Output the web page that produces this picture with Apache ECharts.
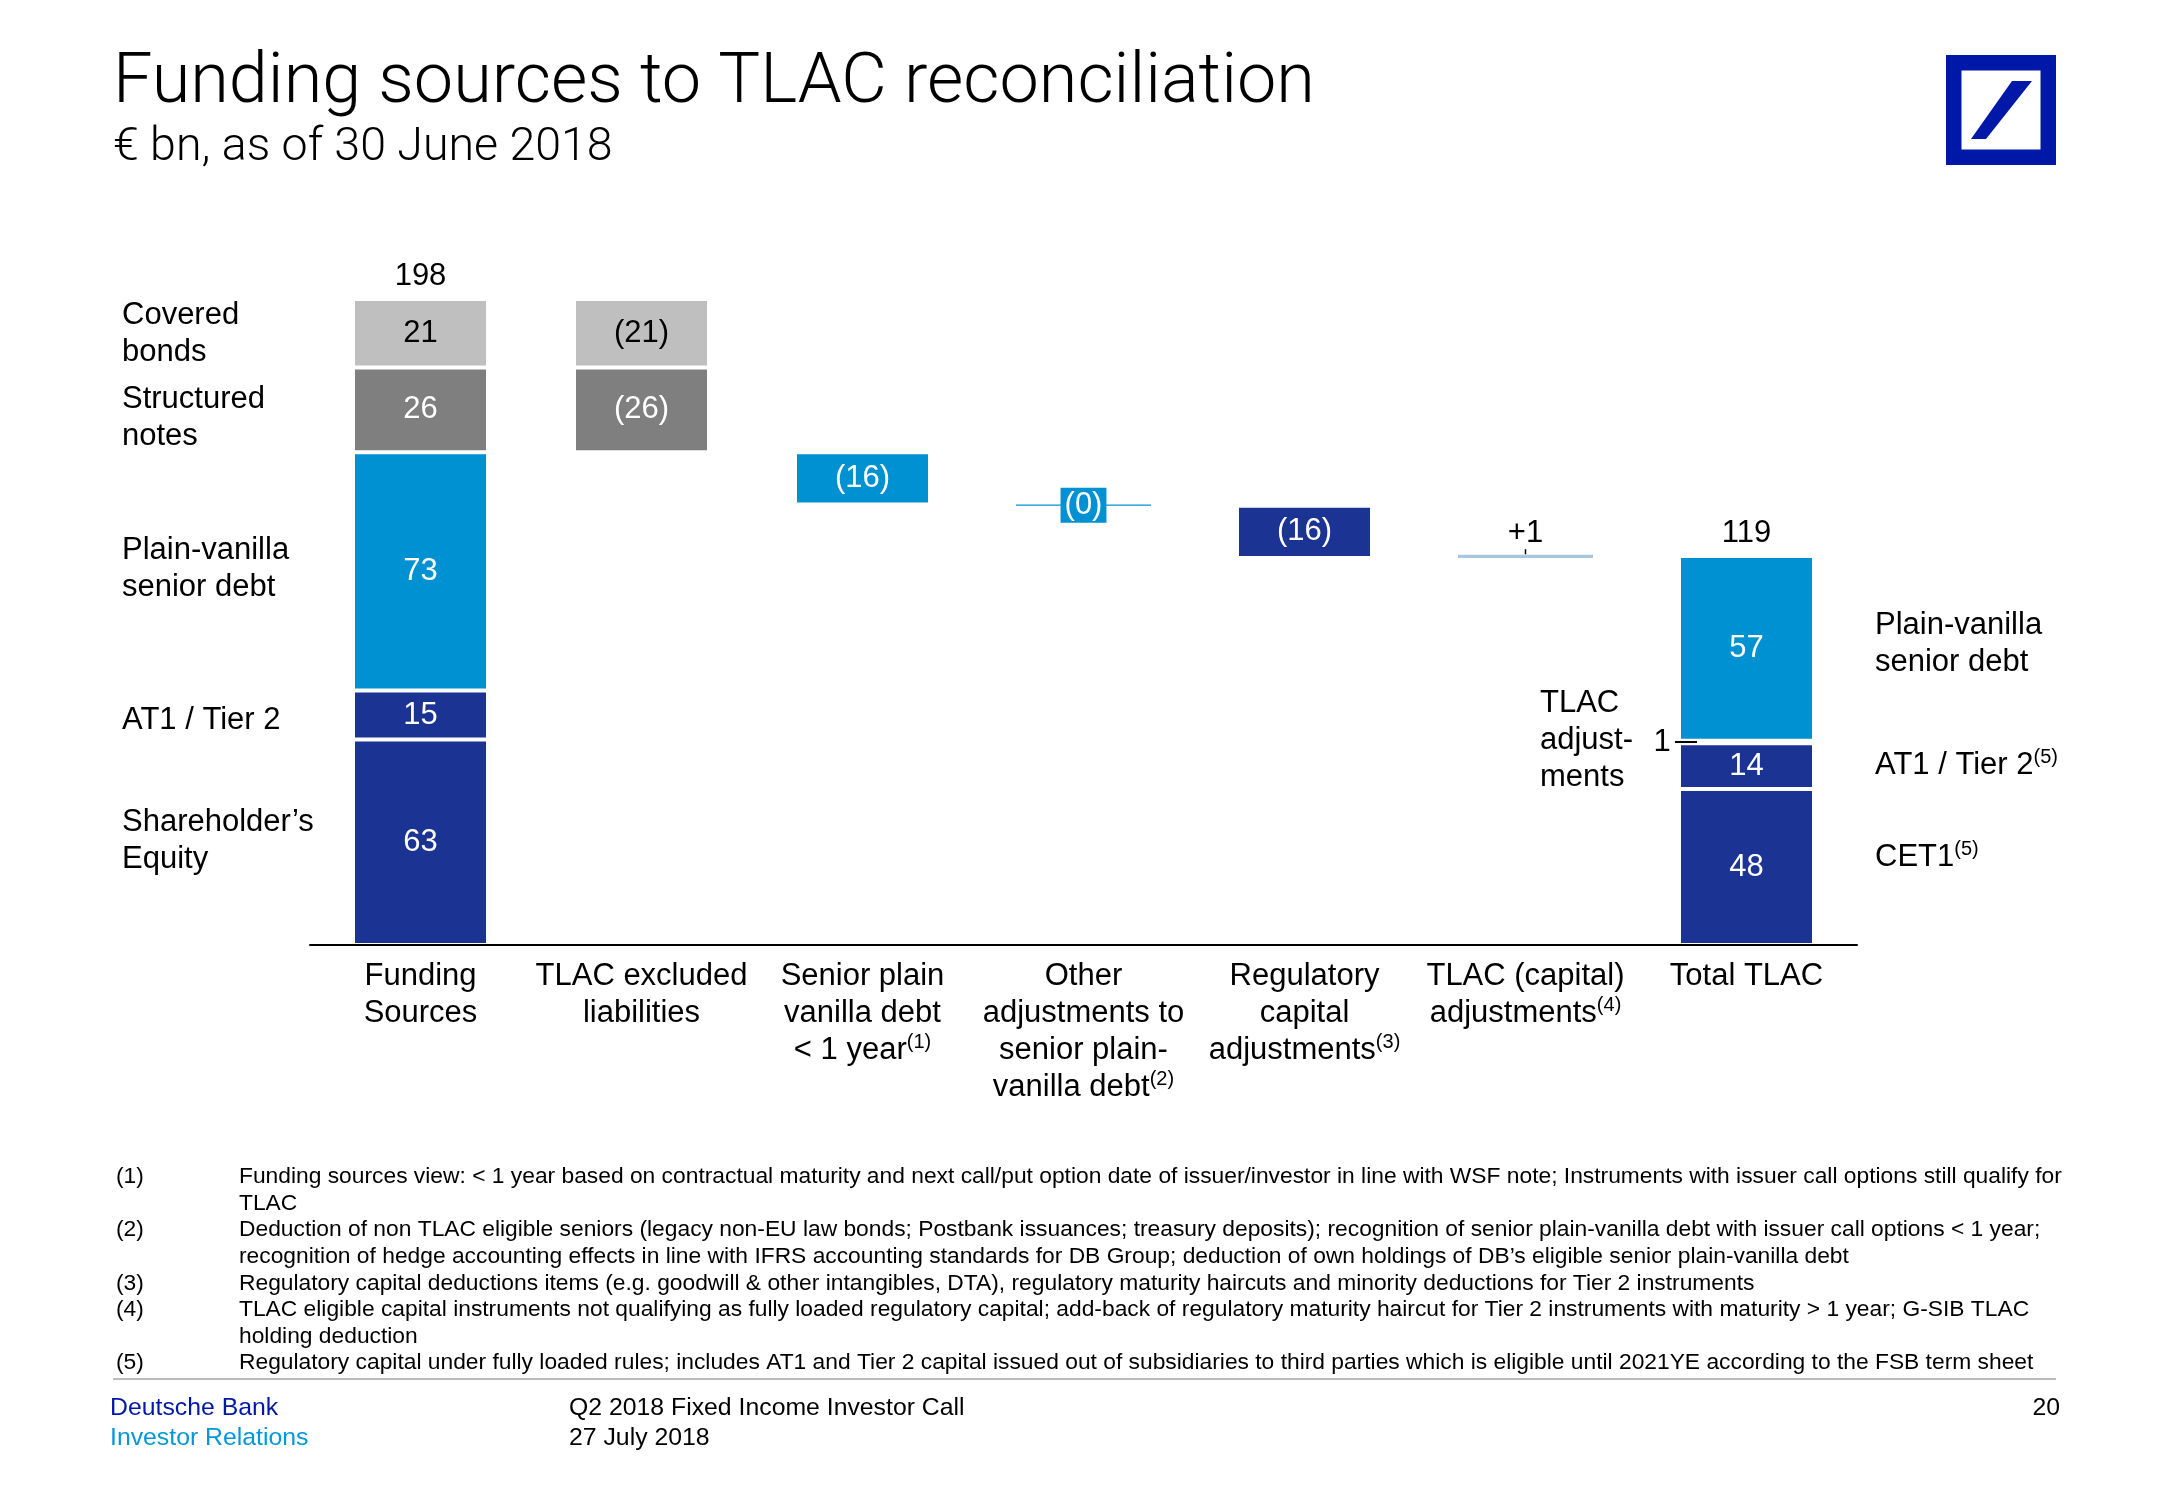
<!DOCTYPE html>
<html><head><meta charset="utf-8">
<script src="https://cdn.jsdelivr.net/npm/echarts@6/dist/echarts.min.js"></script>
<style>html,body{margin:0;padding:0;background:#fff}#c{width:2166px;height:1500px}</style>
</head><body><div id="c"></div>
<script>
// ---------------- DATA ----------------
const categories = ['Funding\nSources', 'TLAC excluded\nliabilities', 'Senior plain\nvanilla debt\n< 1 year', 'Other\nadjustments to\nsenior plain-\nvanilla debt', 'Regulatory\ncapital\nadjustments', 'TLAC (capital)\nadjustments', 'Total TLAC'];
const categoryNotes = [null, null, '(1)', '(2)', '(3)', '(4)', null];
// € bn; negative = deduction in the reconciliation
const equityCET1        = [63, null, null, null, null, null, 47.8];
const at1Tier2          = [15, null, null, null, null, null, 14.0];
const tlacAdjustments   = [null, null, null, null, null, null, 0.8];
const plainVanilla      = [73, null, -16, -0.4, null, null, 56.6];
const regulatoryCapital = [null, null, null, null, -16, null, null];
const capitalAdjustments= [null, null, null, null, null, 1, null];
const structuredNotes   = [26, -26, null, null, null, null, null];
const coveredBonds      = [21, -21, null, null, null, null, null];
const totalLabels       = [198, null, null, null, null, null, 119];

const footnotes = [
  ['(1)', ['Funding sources view: < 1 year based on contractual maturity and next call/put option date of issuer/investor in line with WSF note; Instruments with issuer call options still qualify for', 'TLAC']],
  ['(2)', ['Deduction of non TLAC eligible seniors (legacy non-EU law bonds; Postbank issuances; treasury deposits); recognition of senior plain-vanilla debt with issuer call options < 1 year;', 'recognition of hedge accounting effects in line with IFRS accounting standards for DB Group; deduction of own holdings of DB\u2019s eligible senior plain-vanilla debt']],
  ['(3)', ['Regulatory capital deductions items (e.g. goodwill & other intangibles, DTA), regulatory maturity haircuts and minority deductions for Tier 2 instruments']],
  ['(4)', ['TLAC eligible capital instruments not qualifying as fully loaded regulatory capital; add-back of regulatory maturity haircut for Tier 2 instruments with maturity > 1 year; G-SIB TLAC', 'holding deduction']],
  ['(5)', ['Regulatory capital under fully loaded rules; includes AT1 and Tier 2 capital issued out of subsidiaries to third parties which is eligible until 2021YE according to the FSB term sheet']]
];

// ---------------- STYLE ----------------
const FONT = '"Liberation Sans", Arial, sans-serif';
const TITLE_FONT = 'Roboto, "Liberation Sans", Arial, sans-serif';
const COL = {light: '#bfbfbf', dark: '#7f7f7f', blue: '#0091d2', navy: '#1b3393', pale: '#a9c6e0', logo: '#0018a8'};

const n = categories.length;
const segs = [equityCET1, at1Tier2, plainVanilla, structuredNotes, coveredBonds];
let level = segs.reduce((s, a) => s + a[0], 0);
const baseValues = new Array(n).fill(null);
const changeArrays = [plainVanilla, regulatoryCapital, capitalAdjustments, structuredNotes, coveredBonds];
for (let i = 1; i < n - 1; i++) {
  const ch = changeArrays.map(a => a[i]).filter(v => v != null);
  const neg = ch.filter(v => v < 0).reduce((s, v) => s + v, 0);
  const pos = ch.filter(v => v > 0).reduce((s, v) => s + v, 0);
  baseValues[i] = level + neg;
  level = level + neg + pos;
}
const levelAfterCapAdj = level;

function fmt(v) { return v < 0 ? '(' + Math.abs(Math.round(v)) + ')' : String(Math.round(v)); }

function barSeries(name, arr, color, labelColor, opts) {
  opts = opts || {};
  return {
    name, type: 'bar', stack: 'w', barWidth: 135,
    data: arr.map(v => {
      if (v == null) return null;
      if (Math.abs(v) < 1 && opts.tiny) {
        return {value: Math.abs(v), itemStyle: {borderWidth: 0},
          label: {backgroundColor: color, padding: [2, 4], color: '#fff'}};
      }
      return Math.abs(v);
    }),
    itemStyle: {color, borderColor: '#fff', borderWidth: opts.noBorder ? 0 : 2},
    label: {show: !opts.noLabel, position: 'inside', color: labelColor, fontSize: 31, fontFamily: FONT,
      formatter: p => fmt(arr[p.dataIndex])},
    emphasis: {disabled: true}, z: 2
  };
}

const series = [
  {name: 'base', type: 'bar', stack: 'w', barWidth: 135, data: baseValues, itemStyle: {color: 'rgba(0,0,0,0)'}, silent: true, emphasis: {disabled: true}},
  barSeries('CET1 / Equity', equityCET1, COL.navy, '#fff'),
  barSeries('AT1 / Tier 2', at1Tier2, COL.navy, '#fff'),
  barSeries('TLAC adjustments', tlacAdjustments, '#ffffff', '#fff', {noLabel: true}),
  barSeries('Plain-vanilla senior debt', plainVanilla, COL.blue, '#fff', {tiny: true}),
  barSeries('Regulatory capital', regulatoryCapital, COL.navy, '#fff'),
  barSeries('Capital adjustments', capitalAdjustments, COL.pale, '#000', {noLabel: true, noBorder: true}),
  barSeries('Structured notes', structuredNotes, COL.dark, '#fff'),
  barSeries('Covered bonds', coveredBonds, COL.light, '#000')
];

// top labels
const stackTop = i => segs.concat([tlacAdjustments]).reduce((s, a) => s + (a[i] != null && a[i] > 0 ? a[i] : 0), 0);
const topPoints = [];
totalLabels.forEach((t, i) => { if (t != null) topPoints.push({value: [i, stackTop(i)], label: {formatter: String(t)}}); });
capitalAdjustments.forEach((v, i) => { if (v != null) topPoints.push({value: [i, levelAfterCapAdj], label: {formatter: (v > 0 ? '+' : '') + v, distance: 6}}); });
series.push({
  name: 'tops', type: 'scatter', symbolSize: 0, data: topPoints, silent: true,
  itemStyle: {opacity: 1},
  label: {show: true, position: 'top', distance: 7, color: '#000', fontSize: 31, fontFamily: FONT, opacity: 1}, z: 5
});
series.push({
  name: 'tick', type: 'scatter', symbol: 'rect', symbolSize: [1.5, 5], symbolOffset: [0, -3], silent: true,
  itemStyle: {color: '#000', opacity: 1},
  data: capitalAdjustments.map((v, i) => v != null ? [i, levelAfterCapAdj] : null).filter(Boolean), z: 5
});

// ---------------- GRAPHIC ----------------
const T = (x, y, text, o) => ({type: 'text', x, y, z: 100, silent: true, style: Object.assign({
  text, fill: '#000', fontSize: 31, fontFamily: FONT, align: 'left', verticalAlign: 'middle', lineHeight: 37
}, (o || {}))});
const supRich = {s: {fontSize: 20, fontFamily: FONT, lineHeight: 37, padding: [0, 0, 16, 0], fill: '#000'}};
const FN = 22.8;

const graphics = [
  T(113, 84, 'Funding sources to TLAC reconciliation', {fontSize: 70.2, lineHeight: 80, fontFamily: TITLE_FONT, fontWeight: 300}),
  T(113, 148, '\u20ac bn, as of 30 June 2018', {fontSize: 46.5, lineHeight: 52, fontFamily: TITLE_FONT, fontWeight: 300}),
  {type: 'rect', shape: {x: 1946, y: 55, width: 110, height: 110}, style: {fill: COL.logo}, silent: true},
  {type: 'rect', shape: {x: 1961.5, y: 70.5, width: 79, height: 79}, style: {fill: '#fff'}, silent: true},
  {type: 'polygon', shape: {points: [[1971, 139], [1986, 139], [2032, 81], [2012, 81]]}, style: {fill: COL.logo}, silent: true},
  // left labels
  T(122, 333.5, 'Covered\nbonds'),
  T(122, 418, 'Structured\nnotes'),
  T(122, 569, 'Plain-vanilla\nsenior debt'),
  T(122, 720, 'AT1 / Tier 2'),
  T(122, 840.5, 'Shareholder\u2019s\nEquity'),
  // right labels
  T(1875, 643.5, 'Plain-vanilla\nsenior debt'),
  T(1875, 765, 'AT1 / Tier 2{s|(5)}', {rich: supRich}),
  T(1875, 857, 'CET1{s|(5)}', {rich: supRich}),
  T(1540, 740, 'TLAC\nadjust-\nments'),
  T(1662, 742, '1', {align: 'center'}),
  {type: 'line', z: 100, shape: {x1: 1675, y1: 742, x2: 1697, y2: 742}, style: {stroke: '#000', lineWidth: 2}, silent: true},
  // separator + footer
  {type: 'line', shape: {x1: 113, y1: 1379, x2: 2056, y2: 1379}, style: {stroke: '#a6a6a6', lineWidth: 1.5}, silent: true},
  T(110, 1408, 'Deutsche Bank', {fontSize: 24.8, fill: COL.logo, lineHeight: 28}),
  T(110, 1438, 'Investor Relations', {fontSize: 24.8, fill: '#0098db', lineHeight: 28}),
  T(569, 1408, 'Q2 2018 Fixed Income Investor Call', {fontSize: 24.8, lineHeight: 28}),
  T(569, 1438, '27 July 2018', {fontSize: 24.8, lineHeight: 28}),
  T(2060, 1408, '20', {fontSize: 24.8, lineHeight: 28, align: 'right'})
];
let fy = 1177;
footnotes.forEach(([num, lines]) => {
  graphics.push(T(116, fy, num, {fontSize: FN, lineHeight: 26}));
  lines.forEach(l => { graphics.push(T(239, fy, l, {fontSize: FN, lineHeight: 26})); fy += 26.6; });
});

// ---------------- CHART ----------------
const chart = echarts.init(document.getElementById('c'), null, {renderer: 'canvas'});
chart.setOption({
  animation: false,
  backgroundColor: '#fff',
  grid: {left: 310, right: 309, top: 292.4, bottom: 555, containLabel: false},
  xAxis: {
    type: 'category', data: categories, z: 10,
    axisLine: {lineStyle: {color: '#000', width: 2}},
    axisTick: {show: false},
    axisLabel: {
      interval: 0, margin: 13, color: '#000', fontSize: 31, lineHeight: 37, fontFamily: FONT, align: 'center',
      formatter: (v, i) => v + (categoryNotes[i] ? '{s|' + categoryNotes[i] + '}' : ''),
      rich: {s: {fontSize: 20, fontFamily: FONT, lineHeight: 37, padding: [0, 0, 16, 0], color: '#000'}}
    }
  },
  yAxis: {type: 'value', min: 0, max: 200, show: false, splitLine: {show: false}},
  series,
  graphic: graphics
});
</script></body></html>
